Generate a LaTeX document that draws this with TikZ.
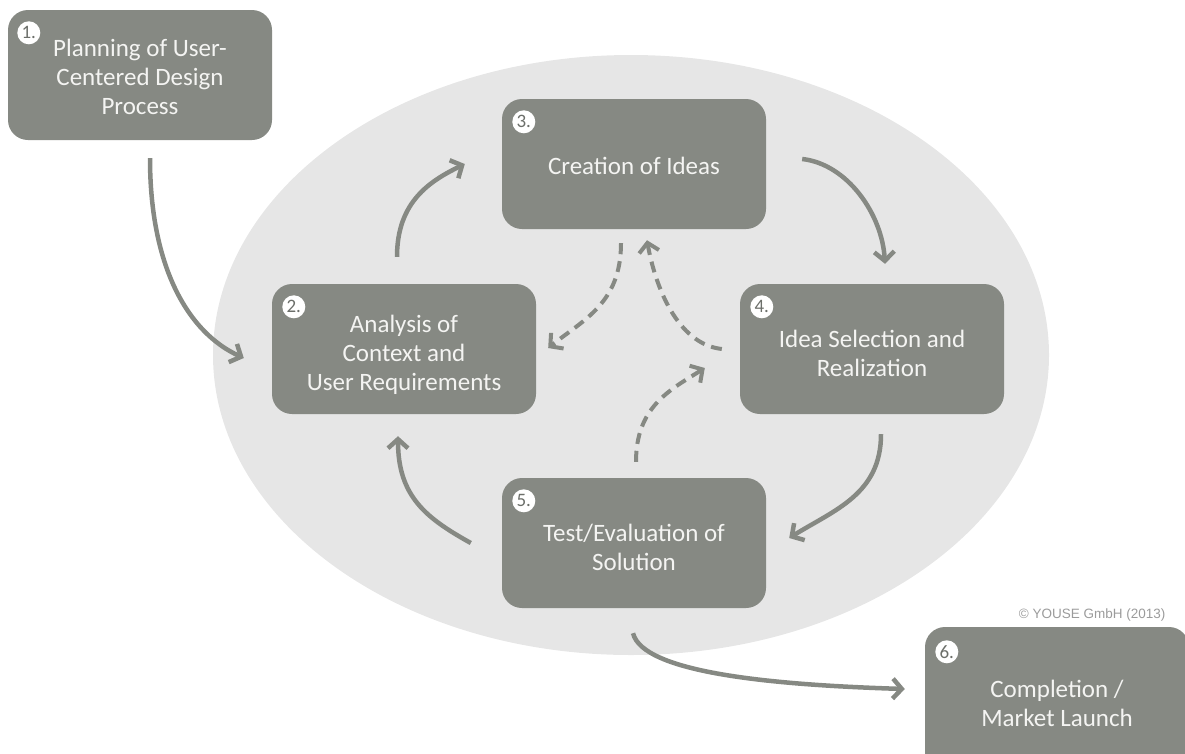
\documentclass[tikz,border=0pt]{standalone}
\usepackage{fontspec}
\setmainfont{Carlito}
\newfontfamily\notefont{Liberation Sans}
\usetikzlibrary{arrows.meta,calc}

\definecolor{boxgray}{HTML}{868983}
\definecolor{numgray}{HTML}{6C6F6A}
\definecolor{ovalgray}{HTML}{E6E6E6}
\definecolor{notegray}{HTML}{9B9B9B}
\definecolor{labelwhite}{HTML}{F4F4F2}

\begin{document}
\begin{tikzpicture}[x=1pt,y=-1pt,
		phase/.style={fill=boxgray,minimum width=264pt,minimum height=130pt,rounded corners=20pt,inner sep=0pt},
		phasetext/.style={text=labelwhite,align=center,inner sep=0pt,font=\fontsize{25}{29}\selectfont},
		num/.style={circle,fill=white,text=numgray,minimum size=23pt,inner sep=0pt,font=\fontsize{19}{19}\selectfont},
		flow/.style={draw=boxgray,line width=4.5pt,-{Straight Barb[length=9pt,width=20pt]}},
		backflow/.style={flow,line width=4pt,dash pattern=on 11pt off 7pt}]
		\useasboundingbox (0,0) rectangle (1185,753);
		% grey oval behind the cycle
		\fill[ovalgray] (631,355) ellipse [x radius=418, y radius=300];
		\draw
		node[phase,label={[phasetext,yshift=-2pt]center:{Planning of User-\\Centered Design\\Process}}] (b1) at (140,75) {}
		node[phase,label={[phasetext,yshift=-6pt]center:{Analysis of\\Context and\\User Requirements}}] (b2) at (404,349) {}
		node[phase,label={[phasetext,yshift=-2pt]center:{Creation of Ideas}}] (b3) at (634,164) {}
		node[phase,label={[phasetext,yshift=-4pt]center:{Idea Selection and\\Realization}}] (b4) at (872,349) {}
		node[phase,label={[phasetext,yshift=-4pt]center:{Test/Evaluation of\\Solution}}] (b5) at (634,543) {}
		node[phase,minimum height=152pt,label={[phasetext]center:{Completion /\\Market Launch}}] (b6) at (1057,703) {};
		\node[num] (n1) at ($(b1.north west)+(21,23)$) {1.};
		\node[num] (n2) at ($(b2.north west)+(22,23)$) {2.};
		\node[num] (n3) at ($(b3.north west)+(22,23)$) {3.};
		\node[num] (n4) at ($(b4.north west)+(22,23)$) {4.};
		\node[num] (n5) at ($(b5.north west)+(22,23)$) {5.};
		\node[num] (n6) at ($(b6.north west)+(22,25)$) {6.};
		\node[anchor=east,text=notegray,font=\notefont\fontsize{13.5}{14}\selectfont] (note) at (1169,615) {\textcopyright{} YOUSE GmbH (2013)};
		% main cycle
		\draw [flow] ($(b1.south)+(10,18)$) .. controls +(0,110) and +(-55,-25) .. ($(b2.west)+(-28,9)$);
		\draw [flow] ($(b2.north)+(-7,-27)$) .. controls +(0,-55) and +(-35,17) .. ($(b3.west)+(-37,0)$);
		\draw [flow] ($(b3.east)+(36,-5)$) .. controls +(45,5) and +(-3,-50) .. ($(b4.north)+(13,-20)$);
		\draw [flow] ($(b4.south)+(9,20)$) .. controls +(0,60) and +(45,-28) .. ($(b5.east)+(23,-5)$);
		\draw [flow] ($(b5.west)+(-31,0)$) .. controls +(-45,-25) and +(0,60) .. ($(b2.south)+(-6,22)$);
		\draw [flow] ($(b5.south)+(-1,25)$) .. controls +(10,40) and +(-130,-4) .. ($(b6.west)+(-20,-14)$);
		% iterations back and forth
		\draw [backflow] ($(b3.south)+(-13,14)$) .. controls +(0,60) and +(35,-28) .. ($(b2.east)+(12,-1)$);
		\draw [backflow] ($(b4.west)+(-18,0)$) .. controls +(-45,-5) and +(8,45) .. ($(b3.south)+(13,11)$);
		\draw [backflow] ($(b5.north)+(2,-16)$) .. controls +(0,-55) and +(-35,22) .. ($(b4.west)+(-35,19)$);
\end{tikzpicture}
\end{document}
